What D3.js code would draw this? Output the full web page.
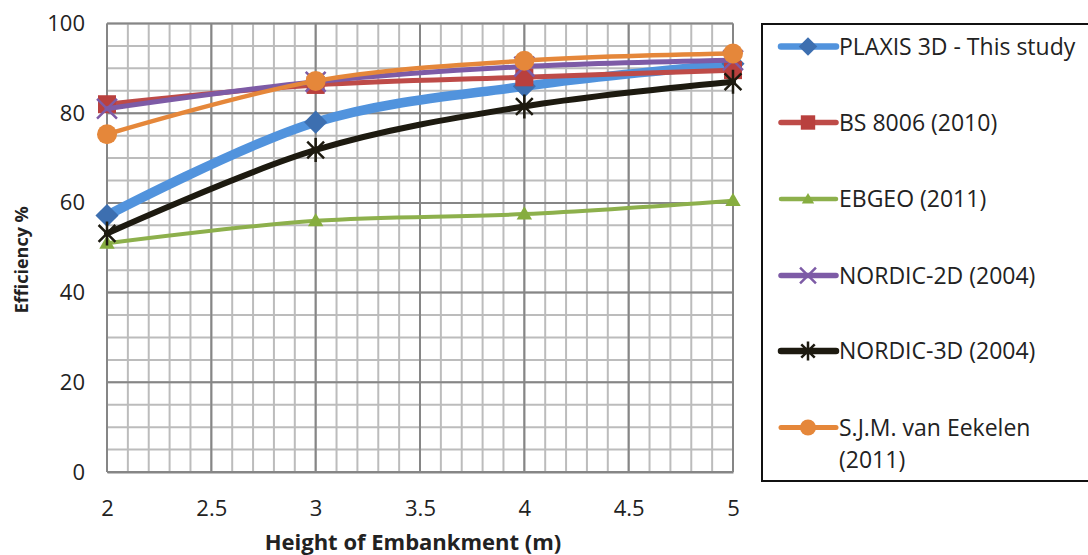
<!DOCTYPE html>
<html>
<head>
<meta charset="utf-8">
<title>Efficiency vs height of embankment</title>
<style>
  body { margin: 0; background: #fff; }
  text { font-family: "Open Sans", "Noto Sans", sans-serif; fill: #222; }
</style>
</head>
<body>
<div id="chart"></div>
<script src="https://d3js.org/d3.v7.min.js"></script>
<script>
// data
const heights = [2, 3, 4, 5]
const plaxis = [57.2, 78, 86, 91]
const bs8006 = [82, 86.3, 88, 89.6]
const ebgeo = [51, 56, 57.5, 60.5]
const nordic2d = [81, 87, 90.4, 91.8]
const nordic3d = [53.2, 71.8, 81.5, 87]
const eekelen = [75.3, 87.2, 91.7, 93.3]
const xTicks = [2, 2.5, 3, 3.5, 4, 4.5, 5]
const yTicks = [0, 20, 40, 60, 80, 100]

const series = [
  { name: ["PLAXIS 3D - This study"], values: plaxis, line: "#5193dd", mark: "#3d6fb0", width: 9.5, symbol: "diamond" },
  { name: ["BS 8006 (2010)"], values: bs8006, line: "#be4b48", mark: "#b9403e", width: 5, symbol: "square" },
  { name: ["EBGEO (2011)"], values: ebgeo, line: "#8db04c", mark: "#86ad3f", width: 4, symbol: "triangle" },
  { name: ["NORDIC-2D (2004)"], values: nordic2d, line: "#7d5ba6", mark: "#7d5ba6", width: 5, symbol: "x" },
  { name: ["NORDIC-3D (2004)"], values: nordic3d, line: "#1d1a10", mark: "#1d1a10", width: 6, symbol: "star" },
  { name: ["S.J.M. van Eekelen", "(2011)"], values: eekelen, line: "#e5873a", mark: "#e5873a", width: 4.5, symbol: "circle" }
]

const W = 1088, H = 555
const margin = { top: 23.5, left: 107, right: 355, bottom: 83 }

const svg = d3.select("#chart").append("svg")
  .attr("width", W).attr("height", H)

const x = d3.scaleLinear().domain([2, 5]).range([margin.left, W - margin.right])
const y = d3.scaleLinear().domain([0, 100]).range([H - margin.bottom, margin.top])

// grid - minor then major
const minorX = d3.range(20, 51).map(d => d / 10)
const minorY = d3.range(0, 101, 5)
const grid = svg.append("g")
grid.selectAll(".mx").data(minorX).join("line")
  .attr("x1", d => x(d)).attr("x2", d => x(d))
  .attr("y1", y(0)).attr("y2", y(100))
  .attr("stroke", "#bcbcbc").attr("stroke-width", 2)
grid.selectAll(".my").data(minorY).join("line")
  .attr("x1", x(2)).attr("x2", x(5))
  .attr("y1", d => y(d)).attr("y2", d => y(d))
  .attr("stroke", "#bcbcbc").attr("stroke-width", 2)
grid.selectAll(".Mx").data(xTicks).join("line")
  .attr("x1", d => x(d)).attr("x2", d => x(d))
  .attr("y1", y(0)).attr("y2", y(100))
  .attr("stroke", "#868686").attr("stroke-width", 2)
grid.selectAll(".My").data(yTicks).join("line")
  .attr("x1", x(2)).attr("x2", x(5))
  .attr("y1", d => y(d)).attr("y2", d => y(d))
  .attr("stroke", "#868686").attr("stroke-width", 2)

// axes
const xAxis = svg.append("g")
  .attr("transform", `translate(0,${y(0)})`)
  .call(d3.axisBottom(x).tickValues(xTicks).tickSize(0).tickPadding(28).tickFormat(d3.format("")))
xAxis.select(".domain").attr("stroke", "#868686").attr("stroke-width", 2)
xAxis.selectAll("text").style("font-size", "22px").attr("fill", "#222")

const yAxis = svg.append("g")
  .attr("transform", `translate(${x(2)},0)`)
  .call(d3.axisLeft(y).tickValues(yTicks).tickSize(0).tickPadding(22))
yAxis.select(".domain").remove()
yAxis.selectAll("text").style("font-size", "22px").attr("fill", "#222")

svg.append("text")
  .attr("x", (x(2) + x(5)) / 2 - 7).attr("y", 550)
  .attr("text-anchor", "middle")
  .style("font-size", "22px").style("font-weight", "bold")
  .text("Height of Embankment (m)")

svg.append("text")
  .attr("transform", `translate(28,${(y(0) + y(100)) / 2 + 12}) rotate(-90)`)
  .attr("text-anchor", "middle")
  .style("font-size", "18px").style("font-weight", "bold")
  .text("Efficiency %")

// markers
function drawMarker(g, s, cx, cy, scale) {
  const k = scale || 1
  if (s.symbol === "diamond") {
    g.append("path").attr("d", d3.symbol(d3.symbolDiamond2, 340 * k * k)())
      .attr("transform", `translate(${cx},${cy})`).attr("fill", s.mark)
  } else if (s.symbol === "square") {
    g.append("rect").attr("x", cx - 9 * k).attr("y", cy - 9 * k)
      .attr("width", 18 * k).attr("height", 18 * k).attr("fill", s.mark)
  } else if (s.symbol === "triangle") {
    g.append("path").attr("d", d3.symbol(d3.symbolTriangle2, 170 * k * k)())
      .attr("transform", `translate(${cx},${cy + 1})`).attr("fill", s.mark)
  } else if (s.symbol === "circle") {
    g.append("circle").attr("cx", cx).attr("cy", cy).attr("r", 10 * k).attr("fill", s.mark)
  } else if (s.symbol === "x") {
    g.append("path").attr("d", d3.symbol(d3.symbolX, 260 * k * k)())
      .attr("transform", `translate(${cx},${cy})`)
      .attr("fill", "none").attr("stroke", s.mark).attr("stroke-width", 2.5)
  } else if (s.symbol === "star") {
    const r = 12 * k
    g.append("path")
      .attr("d", `M${cx - r * 0.7},${cy - r * 0.7}L${cx + r * 0.7},${cy + r * 0.7}M${cx + r * 0.7},${cy - r * 0.7}L${cx - r * 0.7},${cy + r * 0.7}M${cx},${cy - r}L${cx},${cy + r}`)
      .attr("fill", "none").attr("stroke", s.mark).attr("stroke-width", 2.5)
  }
}

const line = d3.line()
  .x((d, i) => x(heights[i]))
  .y(d => y(d))
  .curve(d3.curveCatmullRom.alpha(0.5))

series.forEach(s => {
  const g = svg.append("g")
  g.append("path").datum(s.values)
    .attr("d", line)
    .attr("fill", "none")
    .attr("stroke", s.line)
    .attr("stroke-width", s.width)
    .attr("stroke-linecap", "round")
    .attr("stroke-linejoin", "round")
  s.values.forEach((v, i) => drawMarker(g, s, x(heights[i]), y(v)))
})

// legend
const legend = svg.append("g")
legend.append("rect")
  .attr("x", 762).attr("y", 24).attr("width", 340).attr("height", 457)
  .attr("fill", "#fff").attr("stroke", "#111").attr("stroke-width", 2)

const legendY = [46.5, 122.5, 199, 275.5, 351, 427.5]
series.forEach((s, i) => {
  const g = legend.append("g")
  const cy = legendY[i]
  g.append("line").attr("x1", 781).attr("x2", 836).attr("y1", cy).attr("y2", cy)
    .attr("stroke", s.line).attr("stroke-width", Math.min(s.width, 6) + 0.5).attr("stroke-linecap", "round")
  drawMarker(g, s, 808, cy, 0.8)
  s.name.forEach((t, j) => {
    g.append("text").attr("x", 839).attr("y", cy + 8 + j * 32)
      .style("font-size", "23px").text(t)
  })
})
</script>
</body>
</html>
